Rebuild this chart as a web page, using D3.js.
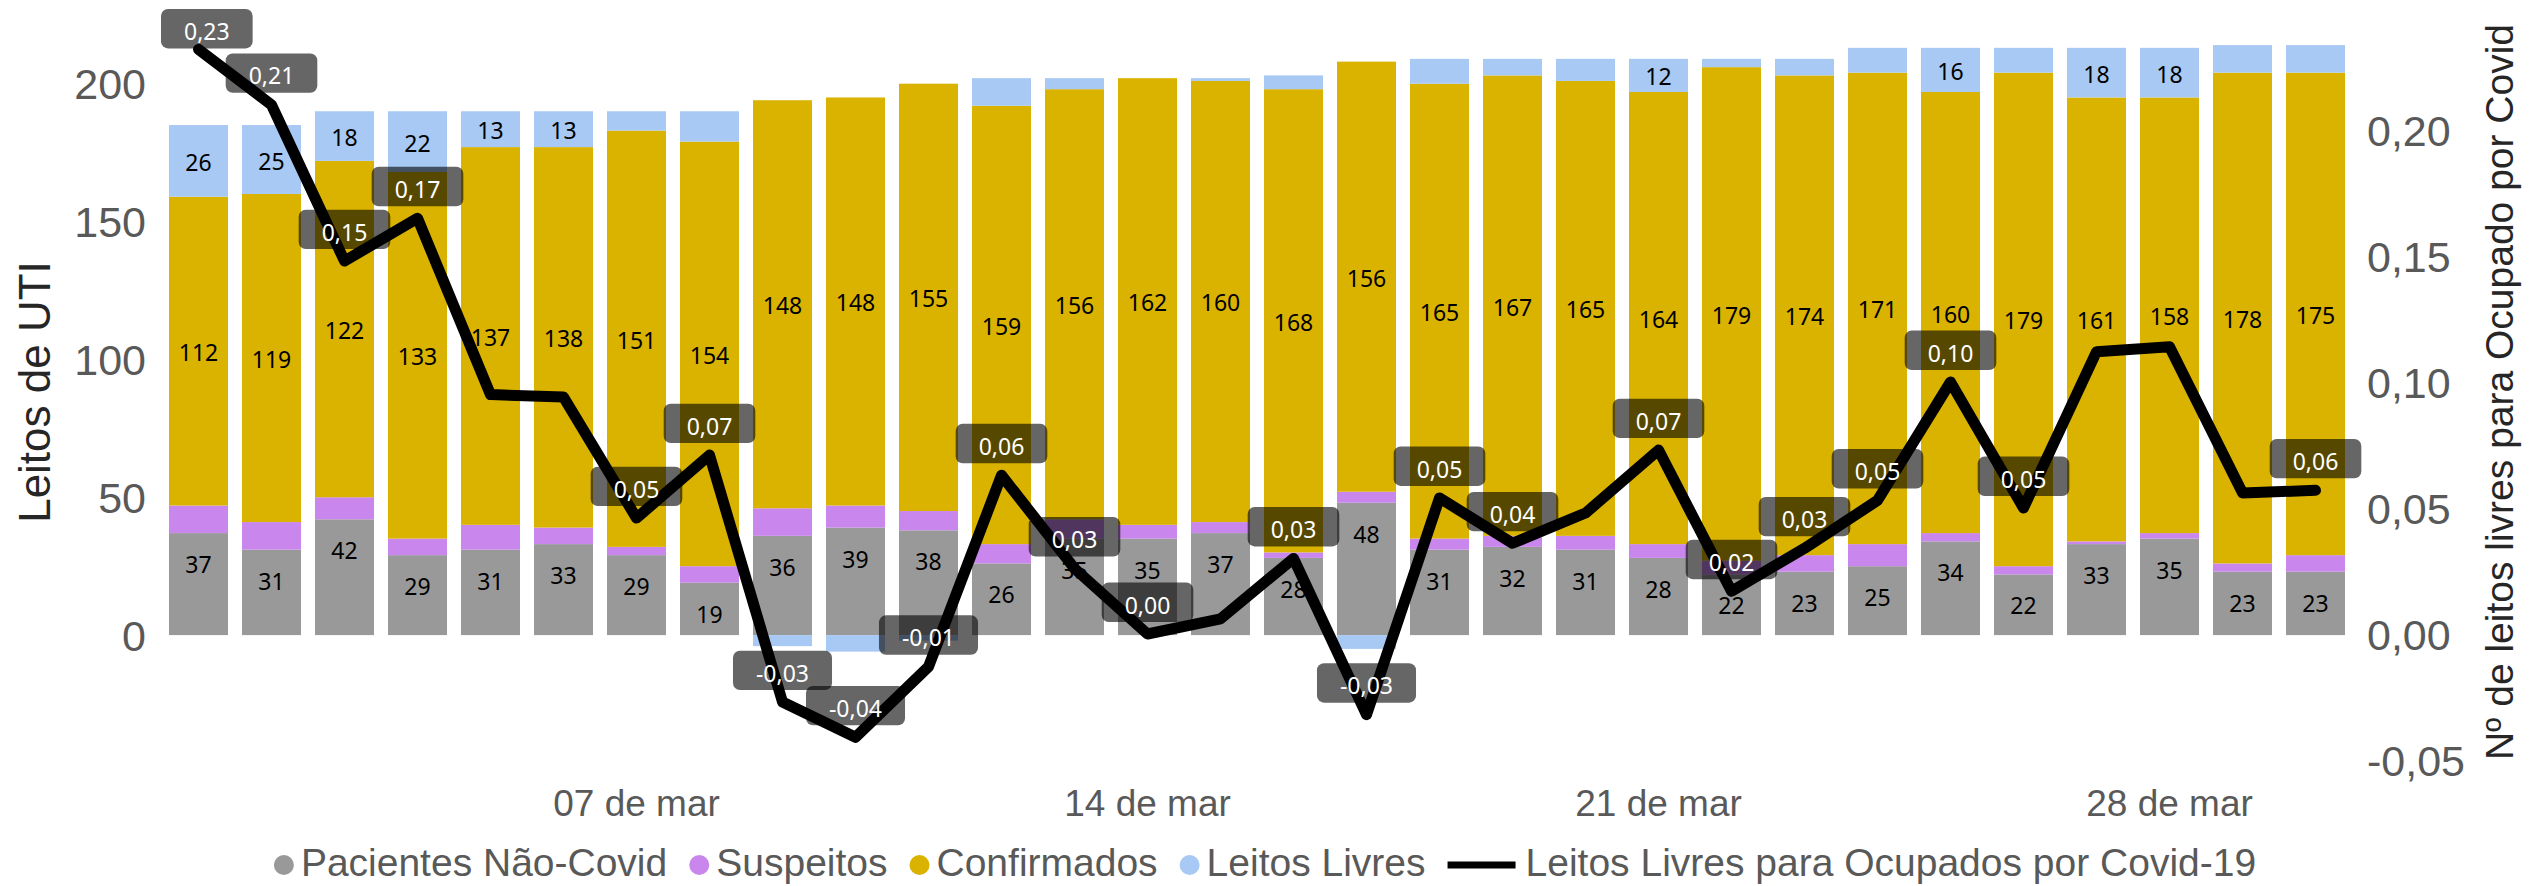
<!DOCTYPE html>
<html><head><meta charset="utf-8">
<script src="https://cdn.jsdelivr.net/npm/d3@7"></script>
<style>body{margin:0;background:#fff;} svg{display:block;}</style>
</head><body>
<svg id="chart" width="2544" height="886"></svg>
<script>
const days = ["01/03","02/03","03/03","04/03","05/03","06/03","07/03","08/03","09/03","10/03",
  "11/03","12/03","13/03","14/03","15/03","16/03","17/03","18/03","19/03","20/03",
  "21/03","22/03","23/03","24/03","25/03","26/03","27/03","28/03","29/03","30/03"];
const naoCovid    = [37,31,42,29,31,33,29,19,36,39,38,26,35,35,37,28,48,31,32,31,28,22,23,25,34,22,33,35,23,23];
const suspeitos   = [10,10,8,6,9,6,3,6,10,8,7,7,7,5,4,2,4,4,4,5,5,5,6,8,3,3,1,2,3,6];
const confirmados = [112,119,122,133,137,138,151,154,148,148,155,159,156,162,160,168,156,165,167,165,164,179,174,171,160,179,161,158,178,175];
const leitosLivres= [26,25,18,22,13,13,7,11,-4,-6,-2,10,4,0,1,5,-5,9,6,8,12,3,6,9,16,9,18,18,10,10];
const razao = [0.232,0.210,0.148,0.165,0.095,0.094,0.046,0.071,-0.027,-0.041,-0.013,0.063,0.026,0.000,0.006,
  0.030,-0.032,0.054,0.036,0.048,0.073,0.017,0.034,0.053,0.100,0.050,0.112,0.114,0.056,0.057];
const razaoRotulada = [true,true,true,true,false,false,true,true,true,true,true,true,true,true,false,
  true,true,true,true,false,true,true,true,true,true,true,false,false,false,true];
const xTickDays = ["07/03","14/03","21/03","28/03"];
const xTickLabels = ["07 de mar","14 de mar","21 de mar","28 de mar"];
const leftTicks = [0,50,100,150,200];
const rightTicks = [-0.05,0,0.05,0.10,0.15,0.20];
const seriesNames = ["Pacientes Não-Covid","Suspeitos","Confirmados","Leitos Livres"];
const lineName = "Leitos Livres para Ocupados por Covid-19";
const leftTitle = "Leitos de UTI";
const rightTitle = "Nº de leitos livres para Ocupado por Covid";

const keys = ["naoCovid","suspeitos","confirmados","livres"];
const colors = {naoCovid:"#999999", suspeitos:"#C986ED", confirmados:"#DAB300", livres:"#A7C9F4"};

const rows = days.map((d,i)=>({day:d, naoCovid:naoCovid[i], suspeitos:suspeitos[i],
  confirmados:confirmados[i], livres:leitosLivres[i], razao:razao[i], rot:razaoRotulada[i]}));

const locale = d3.formatLocale({decimal:",", thousands:".", grouping:[3], currency:["",""], minus:"-"});
const fmt2 = locale.format(".2f");

const svg = d3.select("#chart");
const plot = {left:162, right:2352, top:4, bottom:760};

const x = d3.scaleBand().domain(days).range([plot.left, plot.right]).paddingInner(0.192).paddingOuter(0.096);
const yL = d3.scaleLinear().domain([-45.3, 228.9]).range([plot.bottom, plot.top]);
const yR = d3.scaleLinear().domain([-0.05, 0.25]).range([plot.bottom, plot.top]);

const stacked = d3.stack().keys(keys).offset(d3.stackOffsetDiverging)(rows);

const gBars = svg.append("g");
stacked.forEach(layer=>{
  gBars.append("g").attr("fill", colors[layer.key])
    .selectAll("rect").data(layer).join("rect")
    .attr("x", d=>x(d.data.day))
    .attr("width", x.bandwidth())
    .attr("y", d=>yL(Math.max(d[0],d[1])))
    .attr("height", d=>Math.abs(yL(d[0])-yL(d[1])));
});

const labelFont = "'Noto Sans', 'Open Sans', sans-serif";
const gLab = svg.append("g").attr("font-family", labelFont).attr("font-size", 23).attr("fill","#000").attr("text-anchor","middle");
const cx = d=>x(d.data.day)+x.bandwidth()/2;
gLab.selectAll("text.nc").data(stacked[0]).join("text").attr("class","nc")
  .attr("x", cx).attr("y", d=>yL(d[1])+40).text(d=>d.data.naoCovid);
gLab.selectAll("text.cf").data(stacked[2]).join("text").attr("class","cf")
  .attr("x", cx).attr("y", d=>(yL(d[0])+yL(d[1]))/2+10).text(d=>d.data.confirmados);
gLab.selectAll("text.lv").data(stacked[3].filter(d=>d.data.livres>=12)).join("text").attr("class","lv")
  .attr("x", cx).attr("y", d=>(yL(d[0])+yL(d[1]))/2+10).text(d=>d.data.livres);

const line = d3.line().x(d=>x(d.day)+x.bandwidth()/2).y(d=>yR(d.razao));
svg.append("path").datum(rows).attr("d", line).attr("fill","none").attr("stroke","#000")
  .attr("stroke-width",11).attr("stroke-linejoin","round").attr("stroke-linecap","round");

const gLL = svg.append("g").attr("font-family", labelFont).attr("font-size", 23);
rows.filter(d=>d.rot).forEach(d=>{
  const g = gLL.append("g");
  const t = g.append("text").attr("fill","#fff").attr("text-anchor","middle").text(fmt2(d.razao));
  const tw = t.node().getComputedTextLength();
  const w = tw + 46, h = 39.4;
  const px = x(d.day)+x.bandwidth()/2, py = yR(d.razao);
  const left = Math.max(plot.left-1, px - w/2);
  const top = Math.max(9, py - 12 - h);
  g.insert("rect","text").attr("x",left).attr("y",top).attr("width",w).attr("height",h)
    .attr("rx",7).attr("fill","rgba(0,0,0,0.6)");
  t.attr("x", left + w/2).attr("y", top + 31);
});

const axisFont = "'Liberation Sans', Arial, sans-serif";
const ax1 = svg.append("g").attr("transform",`translate(${plot.left},0)`)
  .call(d3.axisLeft(yL).tickValues(leftTicks).tickSize(0).tickPadding(16));
const ax2 = svg.append("g").attr("transform",`translate(${plot.right},0)`)
  .call(d3.axisRight(yR).tickValues(rightTicks).tickSize(0).tickPadding(15).tickFormat(fmt2));
const ax3 = svg.append("g").attr("transform",`translate(0,${plot.bottom})`)
  .call(d3.axisBottom(x).tickValues(xTickDays).tickSize(0).tickPadding(30).tickFormat((d,i)=>xTickLabels[i]));
[ax1,ax2,ax3].forEach(a=>{
  a.select(".domain").remove();
  a.selectAll("text").attr("font-family",axisFont).attr("fill","#595959");
});
ax1.selectAll("text").attr("font-size",43).attr("dy","0.35em");
ax2.selectAll("text").attr("font-size",43).attr("dy","0.35em");
ax3.selectAll("text").attr("font-size",37);

svg.append("text").attr("transform","translate(50,392) rotate(-90)").attr("text-anchor","middle")
  .attr("font-family",axisFont).attr("font-size",44).attr("fill","#262626").text(leftTitle);
svg.append("text").attr("transform","translate(2513,392) rotate(-90)").attr("text-anchor","middle")
  .attr("font-family",axisFont).attr("font-size",39).attr("fill","#262626").text(rightTitle);

const leg = svg.append("g").attr("font-family",axisFont).attr("font-size",39).attr("fill","#595959");
let cur = 0;
keys.forEach((k,i)=>{
  const g = leg.append("g");
  g.append("circle").attr("cx",cur+10).attr("cy",-11).attr("r",10).attr("fill",colors[k]);
  const t = g.append("text").attr("x",cur+27).attr("y",0).text(seriesNames[i]);
  cur = cur + 27 + t.node().getComputedTextLength() + 22;
});
{
  const g = leg.append("g");
  g.append("line").attr("x1",cur).attr("x2",cur+68).attr("y1",-11).attr("y2",-11).attr("stroke","#000").attr("stroke-width",7);
  const t = g.append("text").attr("x",cur+78).attr("y",0).text(lineName);
  cur = cur + 78 + t.node().getComputedTextLength();
}
leg.attr("transform",`translate(${1265 - cur/2},876)`);
</script>
</body></html>
